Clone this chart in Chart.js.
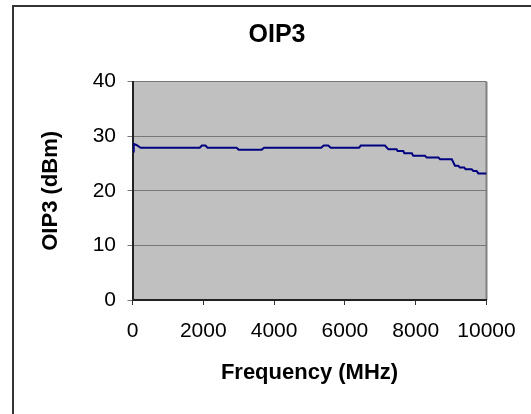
<!DOCTYPE html>
<html>
<head>
<meta charset="utf-8">
<script src="https://cdn.jsdelivr.net/npm/chart.js@4"></script>
<style>
  html, body { margin: 0; padding: 0; background: #fff; overflow: hidden; }
  #frame { position: absolute; left: 12px; top: 5px; width: 600px; height: 500px;
           border-left: 2px solid #333; border-top: 2px solid #333; }
  #wrap { position: absolute; left: 0; top: 0; width: 531px; height: 414px; }
</style>
</head>
<body>
<div id="frame"></div>
<div id="wrap"><canvas id="c" width="531" height="414"></canvas></div>
<script>
// Frequency (MHz)
const freqMHz = [20, 35, 110, 230, 1900, 1960, 2060, 2120, 2940, 3000, 3650, 3720,
  5330, 5400, 5530, 5600, 6400, 6450, 7130, 7230, 7460, 7490, 7650, 7680, 7890,
  7930, 8260, 8310, 8640, 8690, 9020, 9110, 9200, 9250, 9370, 9410, 9580, 9630,
  9720, 9770, 10000];
// OIP3 (dBm)
const oip3dBm = [27.2, 28.6, 28.4, 27.9, 27.9, 28.3, 28.3, 27.9, 27.9, 27.55, 27.55, 27.9,
  27.9, 28.3, 28.3, 27.9, 27.9, 28.3, 28.3, 27.6, 27.6, 27.3, 27.3, 26.9, 26.9,
  26.45, 26.45, 26.1, 26.1, 25.8, 25.8, 24.6, 24.6, 24.3, 24.3, 23.95, 23.95, 23.65,
  23.65, 23.2, 23.2];
const xTicks = [0, 2000, 4000, 6000, 8000, 10000];
const yTicks = [0, 10, 20, 30, 40];
const chartTitle = 'OIP3';
const xTitle = 'Frequency (MHz)';
const yTitle = 'OIP3 (dBm)';

const FONT = "'Liberation Sans', Arial, sans-serif";

const plotBg = {
  id: 'plotBg',
  beforeDraw(chart) {
    const {ctx, chartArea: a} = chart;
    ctx.save();
    ctx.fillStyle = '#C0C0C0';
    ctx.fillRect(a.left, a.top, a.right - a.left, a.bottom - a.top);
    ctx.strokeStyle = '#808080';
    ctx.lineWidth = 2;
    ctx.beginPath();
    ctx.moveTo(a.right, a.top);
    ctx.lineTo(a.right, a.bottom);
    ctx.stroke();
    ctx.restore();
  }
};

new Chart(document.getElementById('c'), {
  type: 'line',
  data: {
    datasets: [{
      data: freqMHz.map((f, i) => ({x: f, y: oip3dBm[i]})),
      borderColor: '#000080',
      borderWidth: 2,
      pointRadius: 0,
      tension: 0,
      fill: false
    }]
  },
  options: {
    responsive: false,
    animation: false,
    devicePixelRatio: 1,
    layout: { padding: { left: 23, right: 0, top: 0, bottom: 0 } },
    plugins: {
      legend: { display: false },
      tooltip: { enabled: false },
      title: {
        display: true,
        text: chartTitle,
        color: '#000',
        font: { family: FONT, size: 25, weight: 'bold' },
        padding: { top: 20.5, bottom: 31.2 }
      }
    },
    scales: {
      x: {
        type: 'linear',
        min: 0, max: 10000,
        afterBuildTicks(s) { s.ticks = xTicks.map(v => ({value: v})); },
        afterFit(s) { s.height = 114; s.paddingRight = 44.5; },
        ticks: {
          color: '#000',
          font: { family: FONT, size: 21 },
          padding: 13.2,
          maxRotation: 0,
          autoSkip: false,
          callback: v => String(v)
        },
        grid: { drawOnChartArea: false, drawTicks: true, tickLength: 5, color: '#333', lineWidth: 1 },
        border: { color: '#222', width: 2 },
        title: {
          display: true, text: xTitle, color: '#000',
          font: { family: FONT, size: 22, weight: 'bold' },
          padding: { top: 0, bottom: 27.8 }
        }
      },
      y: {
        type: 'linear',
        min: 0, max: 40,
        afterBuildTicks(s) { s.ticks = yTicks.map(v => ({value: v})); },
        afterFit(s) { s.width = 109.5; },
        ticks: {
          color: '#000',
          font: { family: FONT, size: 21 },
          padding: 11.5,
          callback: v => String(v)
        },
        grid: { color: '#777', lineWidth: 1, tickLength: 5 },
        border: { color: '#222', width: 2 },
        title: {
          display: true, text: yTitle, color: '#000',
          font: { family: FONT, size: 22, weight: 'bold' },
          padding: { top: 14.6, bottom: 0 }
        }
      }
    }
  },
  plugins: [plotBg]
});
</script>
</body>
</html>
